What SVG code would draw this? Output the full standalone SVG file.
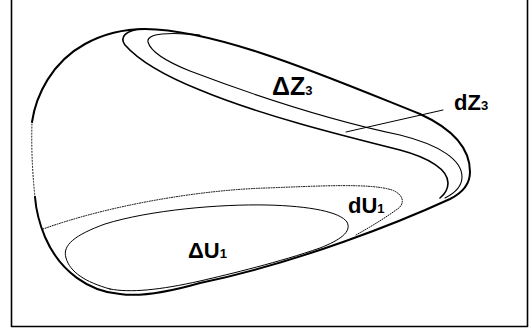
<svg xmlns="http://www.w3.org/2000/svg" width="532" height="335" viewBox="0 0 532 335">
<style>
.ln{fill:none;stroke:#000;stroke-linecap:round;stroke-linejoin:round}
.lbl{font-family:"Liberation Sans",Arial,sans-serif;font-weight:bold;fill:#000}
</style>
<rect width="532" height="335" fill="#fff"/>
<g id="frame">
<path class="ln" d="M11.5,0 V326.5 H527.5 V0" style="stroke-width:1.6;stroke-linecap:butt"/>
</g>
<g id="outer">
<path class="ln" style="stroke-width:2" d="M32,122 C36,95 52,62 85,44 C105,33 125,29 145,29 C220,30 330,78 420,114 C455,130 470,150 470,172 C470,185 462,193 450,199 C400,222 300,262 200,283 C165,293 140,297 120,294 C90,292 60,272 45,237 C40,225 36,210 35,197"/>
<path class="ln" style="stroke-width:1;stroke-dasharray:1 2" d="M35,197 C33,180 31,150 32,122"/>
</g>
<g id="dZ3-band">
<path class="ln" style="stroke-width:1.6" d="M142,29 C126,30 119,37 125,45 C140,62 170,78 200,90 C260,115 340,135 400,150 C430,158 448,170 448,183 C448,190 445,194 440,198"/>
</g>
<g id="dZ3-region">
<path class="ln" style="stroke-width:1.1" d="M200,35 C170,32 146,33 148,42 C151,53 170,63 190,71 C240,90 320,118 400,135 C440,145 462,160 462,177 C462,186 455,193 445,198"/>
</g>
<g id="dU1-region">
<path class="ln" style="stroke-width:1;stroke-dasharray:1 1.5" d="M43,229 C110,205 200,190 266,188 C320,186 370,183 392,190 C405,195 405,205 396,210 C385,218 372,226 356,235"/>
</g>
<g id="dU1-inner">
<path class="ln" style="stroke-width:1" d="M110,289 C85,282 70,272 66,258 C62,245 75,235 105,224 C150,210 220,204 267,205 C310,206 340,212 347,222 C352,232 340,240 320,248 C280,262 230,274 200,281 C160,290 130,293 110,289 Z"/>
</g>
<g id="connectors">
<line class="ln" x1="346" y1="132" x2="443" y2="110" style="stroke-width:1"/>
</g>
<g id="labels">
<text class="lbl" x="272" y="95" font-size="25">ΔZ<tspan font-size="13">3</tspan></text>
<text class="lbl" x="454" y="110" font-size="22">dZ<tspan font-size="13">3</tspan></text>
<text class="lbl" x="188" y="258" font-size="22">ΔU<tspan font-size="13">1</tspan></text>
<text class="lbl" x="348" y="213" font-size="22">dU<tspan font-size="13">1</tspan></text>
</g>
</svg>
